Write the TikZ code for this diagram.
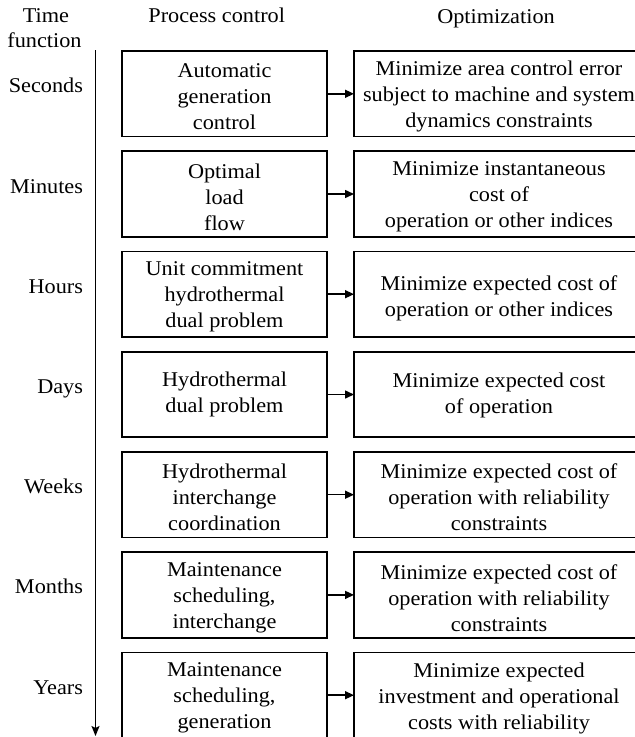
\documentclass[tikz,border=0pt]{standalone}
\usepackage{fontspec}
\setmainfont{Liberation Serif}[FakeStretch=1.06]
\usetikzlibrary{arrows.meta}

\tikzset{
  base/.style={font=\fontsize{21}{26}\selectfont, inner sep=0pt, outer sep=0pt},
  pbox/.style={draw, line width=1.7pt, minimum width=205pt, minimum height=85.5pt, inner sep=0pt, outer sep=0pt},
  obox/.style={draw, line width=1.7pt, minimum width=290pt, minimum height=85.5pt, inner sep=0pt, outer sep=0pt},
  btext/.style={base, align=center},
  tlabel/.style={base, anchor=base east},
  header/.style={base, anchor=base},
  conn/.style={line width=1.5pt, -{Triangle[length=9pt,width=8pt]}},
  timeaxis/.style={line width=1.4pt, -{Stealth[length=10pt,width=8pt,inset=2pt]}}
}

\begin{document}
\begin{tikzpicture}[x=1pt,y=-1pt]
\path[use as bounding box, clip] (0,0) rectangle (635,737);

% column headings
\node[header] (hdtime) at (46,22) {Time};
\node[header] (hdfunc) at (44.5,47) {function};
\node[header] (hdproc) at (216.7,22) {Process control};
\node[header] (hdopt)  at (496,23) {Optimization};

% time axis
\coordinate (axtop) at (95.5,50);
\coordinate (axbot) at (95.5,736);
\draw[timeaxis] (axtop) -- (axbot);

% row 1
\node[pbox] (p1) at (224.5,93.8) {};
\node[obox] (o1) at (499,93.8) {};
\node[btext] (p1t) at ([yshift=-3pt]p1.center) {Automatic\\generation\\control};
\node[btext] (o1t) at ([yshift=-3pt]o1.center) {Minimize area control error\\subject to machine and system\\dynamics constraints};
\node[tlabel] (t1) at (83,92.8) {Seconds};
\draw[conn] (p1.east) -- (o1.west);

% row 2
\node[pbox] (p2) at (224.5,194) {};
\node[obox] (o2) at (499,194) {};
\node[btext] (p2t) at ([yshift=-3pt]p2.center) {Optimal\\load\\flow};
\node[btext] (o2t) at ([yshift=-3pt]o2.center) {Minimize instantaneous\\cost of\\operation or other indices};
\node[tlabel] (t2) at (83,193) {Minutes};
\draw[conn] (p2.east) -- (o2.west);

% row 3
\node[pbox] (p3) at (224.5,294.2) {};
\node[obox] (o3) at (499,294.2) {};
\node[btext] (p3t) at ([yshift=-3pt]p3.center) {Unit commitment\\hydrothermal\\dual problem};
\node[btext] (o3t) at ([yshift=-4pt]o3.center) {Minimize expected cost of\\operation or other indices};
\node[tlabel] (t3) at (83,293.2) {Hours};
\draw[conn] (p3.east) -- (o3.west);

% row 4
\node[pbox] (p4) at (224.5,394.5) {};
\node[obox] (o4) at (499,394.5) {};
\node[btext] (p4t) at (p4.center) {Hydrothermal\\dual problem};
\node[btext] (o4t) at ([yshift=-1pt]o4.center) {Minimize expected cost\\of operation};
\node[tlabel] (t4) at (83,393.5) {Days};
\draw[conn] (p4.east) -- (o4.west);

% row 5
\node[pbox] (p5) at (224.5,494.7) {};
\node[obox] (o5) at (499,494.7) {};
\node[btext] (p5t) at ([yshift=-3pt]p5.center) {Hydrothermal\\interchange\\coordination};
\node[btext] (o5t) at ([yshift=-3pt]o5.center) {Minimize expected cost of\\operation with reliability\\constraints};
\node[tlabel] (t5) at (83,493.7) {Weeks};
\draw[conn] (p5.east) -- (o5.west);

% row 6
\node[pbox] (p6) at (224.5,594.9) {};
\node[obox] (o6) at (499,594.9) {};
\node[btext] (p6t) at ([yshift=-3pt]p6.center) {Maintenance\\scheduling,\\interchange};
\node[btext] (o6t) at ([yshift=-3pt]o6.center) {Minimize expected cost of\\operation with reliability\\constraints};
\node[tlabel] (t6) at (83,593.9) {Months};
\draw[conn] (p6.east) -- (o6.west);

% row 7
\node[pbox] (p7) at (224.5,695.2) {};
\node[obox] (o7) at (499,695.2) {};
\node[btext] (p7t) at ([yshift=-3pt]p7.center) {Maintenance\\scheduling,\\generation};
\node[btext] (o7t) at ([yshift=-3pt]o7.center) {Minimize expected\\investment and operational\\costs with reliability};
\node[tlabel] (t7) at (83,694.2) {Years};
\draw[conn] (p7.east) -- (o7.west);
\end{tikzpicture}
\end{document}
